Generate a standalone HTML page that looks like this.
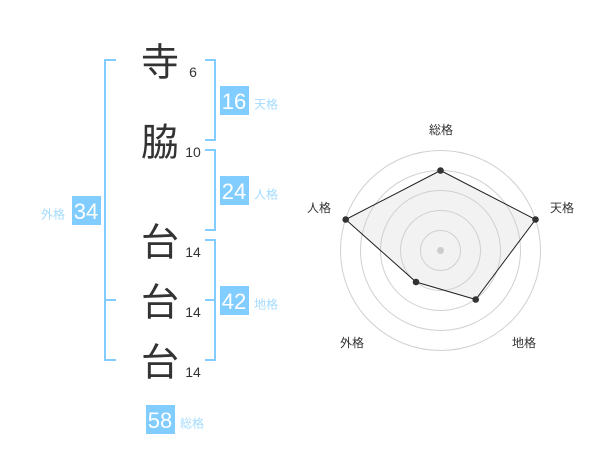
<!DOCTYPE html>
<html lang="ja">
<head>
<meta charset="utf-8">
<style>
html,body{margin:0;padding:0;background:#fff;width:600px;height:470px;overflow:hidden}
svg{display:block}
text{font-family:"Liberation Sans","WenQuanYi Zen Hei","Noto Sans CJK JP",sans-serif}
.k{font-size:38px;fill:#333;text-anchor:middle}
.n{font-size:14px;fill:#333;text-anchor:middle}
.v{font-size:22px;fill:#fff;text-anchor:middle}
.l{font-size:12px;fill:#a5dcff}
.r{font-size:12px;fill:#333;text-anchor:middle}
.b{fill:none;stroke:#82cdff;stroke-width:2}
.c{fill:none;stroke:#d0d0d0;stroke-width:1}
</style>
</head>
<body>
<svg width="600" height="470" viewBox="0 0 600 470" xmlns="http://www.w3.org/2000/svg">
<path class="b" d="M116 60H105V360H116M105 300H116"/>
<path class="b" d="M205 60H215V140H205"/>
<path class="b" d="M205 150H215V230H205"/>
<path class="b" d="M205 240H215V360H205M205 300H215"/>
<text class="k" x="160" y="75.5">寺</text>
<text class="k" x="160" y="155.5">脇</text>
<text class="k" x="160" y="255.5">台</text>
<text class="k" x="160" y="315.5">台</text>
<text class="k" x="160" y="375.5">台</text>
<text class="n" x="193" y="77">6</text>
<text class="n" x="193" y="157">10</text>
<text class="n" x="193" y="257">14</text>
<text class="n" x="193" y="317">14</text>
<text class="n" x="193" y="377">14</text>
<rect x="220" y="86" width="29" height="29" fill="#82cdff"/>
<rect x="220" y="176" width="29" height="29" fill="#82cdff"/>
<rect x="220" y="286" width="29" height="29" fill="#82cdff"/>
<rect x="72" y="196" width="29" height="29" fill="#82cdff"/>
<rect x="146" y="405" width="29" height="29" fill="#82cdff"/>
<text class="v" x="234" y="109">16</text>
<text class="v" x="234" y="199">24</text>
<text class="v" x="234" y="309">42</text>
<text class="v" x="86" y="219">34</text>
<text class="v" x="160" y="428">58</text>
<text class="l" x="254" y="108.5">天格</text>
<text class="l" x="254" y="198.5">人格</text>
<text class="l" x="254" y="308.5">地格</text>
<text class="l" x="41" y="218.5">外格</text>
<text class="l" x="180" y="427.5">総格</text>
<polygon points="440.5,170.5 535.5,219.5 475.7,299.5 416,282 345.7,219.5" fill="#f2f2f2"/>
<circle class="c" cx="440.5" cy="250.5" r="20"/>
<circle class="c" cx="440.5" cy="250.5" r="40"/>
<circle class="c" cx="440.5" cy="250.5" r="60"/>
<circle class="c" cx="440.5" cy="250.5" r="80"/>
<circle class="c" cx="440.5" cy="250.5" r="100"/>
<polygon points="440.5,170.5 535.5,219.5 475.7,299.5 416,282 345.7,219.5" fill="none" stroke="#222" stroke-width="1"/>
<circle cx="440.5" cy="250.5" r="3.5" fill="#ccc"/>
<circle cx="440.5" cy="170.5" r="3.3" fill="#333"/>
<circle cx="535.5" cy="219.5" r="3.3" fill="#333"/>
<circle cx="475.7" cy="299.5" r="3.3" fill="#333"/>
<circle cx="416" cy="282" r="3.3" fill="#333"/>
<circle cx="345.7" cy="219.5" r="3.3" fill="#333"/>
<text class="r" x="441" y="134">総格</text>
<text class="r" x="562" y="212">天格</text>
<text class="r" x="524" y="347">地格</text>
<text class="r" x="352" y="347">外格</text>
<text class="r" x="319" y="212">人格</text>
</svg>
</body>
</html>
